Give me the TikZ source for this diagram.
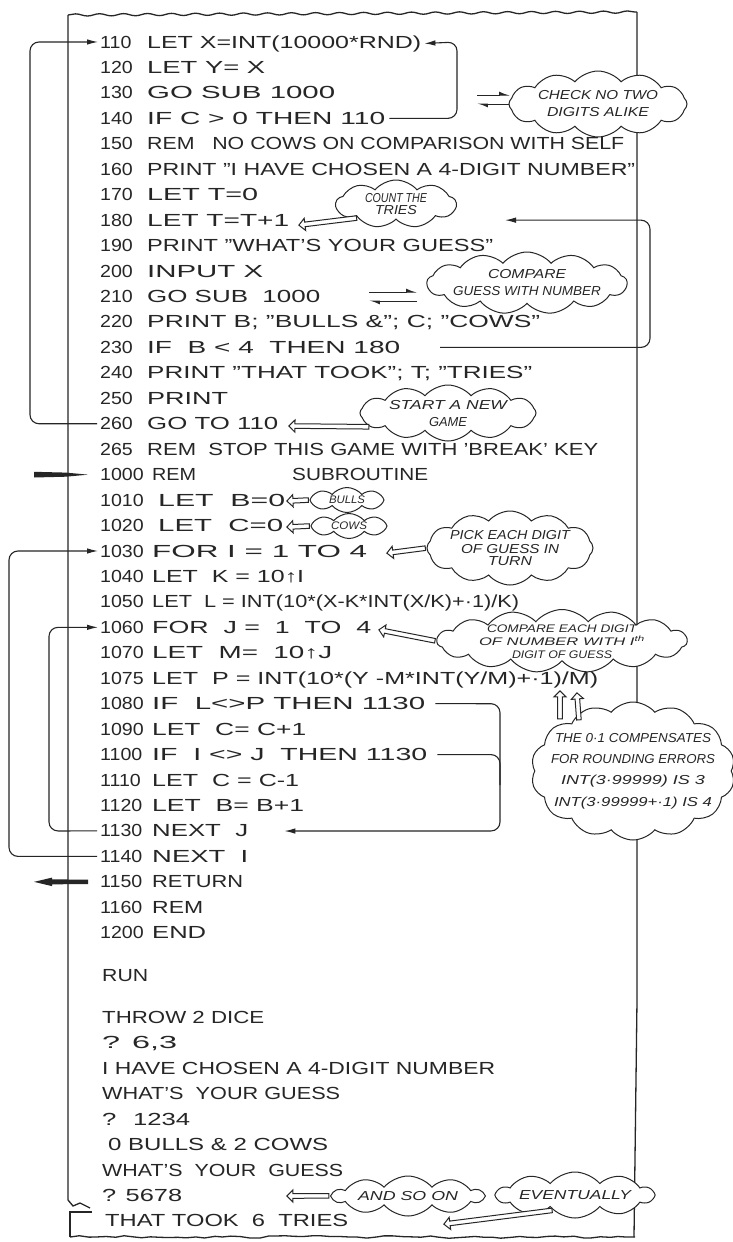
\documentclass[tikz,border=0pt]{standalone}
\usepackage{fontspec}
\usepackage{graphicx}
\setmainfont{Liberation Sans}
\usetikzlibrary{arrows.meta,shapes.symbols,shapes.arrows,decorations.pathmorphing,calc}
\definecolor{ink}{HTML}{262626}
\newsavebox\fitbox
\newcommand\fitw[2]{\sbox\fitbox{#2}\pgfmathsetmacro\fitsx{(#1)/\the\wd\fitbox}\scalebox{\fitsx}[1]{\usebox\fitbox}}
\newcommand\codefont{\fontsize{17.5}{18}\selectfont}
\newcommand\notefont{\itshape\fontsize{13}{13.5}\selectfont}
\newcommand\smallnote{\itshape\fontsize{11}{11}\selectfont}
% program line: k, number, x-start, x-end, text
\newcommand\pl[5]{%
  \node[code] (n#2) at (100,{42+25.45*#1+6}) {\scalebox{1.12}[1]{#2}};
  \node[code] (s#2) at (#3,{42+25.45*#1+6}) {\fitw{#4-#3}{#5}};}
% output line: name, y, x-start, x-end, text
\newcommand\ol[5]{%
  \node[code] (#1) at (#3,{#2+6}) {\fitw{#4-#3}{#5}};}
% hollow pointer from tail to tip
\newcommand\hollow[2]{%
  \path let \p1=($(#2)-(#1)$), \n1={veclen(\x1,\y1)} in
    (#1) -- (#2) node[midway, sloped, allow upside down, ptr, minimum height=\n1]{};}
\begin{document}
\begin{tikzpicture}[x=1pt,y=-1pt,
  code/.style={anchor=base west, inner sep=0pt, font=\codefont, text=ink},
  paper/.style={draw=ink, line width=1.3pt},
  loopline/.style={draw=ink, line width=1.1pt, rounded corners=9pt},
  tip/.style={-{Latex[length=11pt,width=5.5pt]}},
  harp/.style={draw=ink, line width=1pt, -{Latex[harpoon,length=9pt,width=7pt]}},
  bubble/.style={cloud, cloud puffs=12, cloud puff arc=100, cloud ignores aspect,
    draw=ink, fill=white, line width=1pt, inner sep=0pt},
  note/.style={inner sep=0pt, align=center, text=ink},
  ptr/.style={single arrow, draw=ink, fill=white, line width=1pt, inner sep=1.8pt,
    single arrow head extend=3.8pt, single arrow head indent=0pt}]
\useasboundingbox (0,0) rectangle (733,1242);
\fill[white] (0,0) rectangle (733,1242);

% ---------- paper ----------
\draw[paper, decorate, decoration={snake, amplitude=1.1pt, segment length=24pt}]
  (68,15) -- (637,12);
\draw[paper] (68,15) -- (68,1200) -- (73,1206) -- (80,1203) -- (90,1208);
\draw[paper] (92,1212) -- (70,1212) -- (70,1237);
\draw[paper, decorate, decoration={random steps, segment length=9pt, amplitude=1.3pt}]
  (70,1237) -- (635,1237);
\draw[paper] (637,12) -- (637,1000) -- (634,1237);

% ---------- program ----------
\pl{0}{110}{147}{421}{LET X=INT(10000*RND)}
\pl{1}{120}{147}{265}{LET Y= X}
\pl{2}{130}{147}{335}{GO SUB 1000}
\pl{3}{140}{147}{385}{IF C > 0 THEN 110}
\pl{4}{150}{147}{624}{REM \ \ NO COWS ON COMPARISON WITH SELF}
\pl{5}{160}{147}{635}{PRINT "I HAVE CHOSEN A 4-DIGIT NUMBER"}
\pl{6}{170}{147}{258}{LET T=0}
\pl{7}{180}{147}{289}{LET T=T+1}
\pl{8}{190}{147}{493}{PRINT "WHAT'S YOUR GUESS"}
\pl{9}{200}{147}{263}{INPUT X}
\pl{10}{210}{147}{320}{GO SUB \ 1000}
\pl{11}{220}{147}{540}{PRINT B; "BULLS \&"; C; "COWS"}
\pl{12}{230}{147}{400}{IF \ B < 4 \ THEN 180}
\pl{13}{240}{147}{532}{PRINT "THAT TOOK"; T; "TRIES"}
\pl{14}{250}{147}{228}{PRINT}
\pl{15}{260}{147}{278}{GO TO 110}
\pl{16}{265}{147}{598}{REM \ STOP THIS GAME WITH 'BREAK' KEY}
\pl{17}{1000}{152}{196}{REM}
\node[code] (sub1000) at (292,{42+25.45*17+6}) {\fitw{136}{SUBROUTINE}};
\pl{18}{1010}{158}{285}{LET \ B=0}
\pl{19}{1020}{158}{283}{LET \ C=0}
\pl{20}{1030}{152}{367}{FOR I = 1 TO 4}
\pl{21}{1040}{152}{304}{LET \ K = 10↑I}
\pl{22}{1050}{152}{519}{LET \ L = INT(10*(X-K*INT(X/K)+·1)/K)}
\pl{23}{1060}{152}{371}{FOR \ J = \ 1 \ TO \ 4}
\pl{24}{1070}{152}{332}{LET \ M= \ 10↑J}
\pl{25}{1075}{152}{598}{LET \ P = INT(10*(Y -M*INT(Y/M)+·1)/M)}
\pl{26}{1080}{152}{425}{IF \ L<>P THEN 1130}
\pl{27}{1090}{152}{306}{LET \ C= C+1}
\pl{28}{1100}{152}{427}{IF \ I <> J \ THEN 1130}
\pl{29}{1110}{152}{299}{LET \ C = C-1}
\pl{30}{1120}{152}{304}{LET \ B= B+1}
\pl{31}{1130}{152}{248}{NEXT \ J}
\pl{32}{1140}{152}{248}{NEXT \ I}
\pl{33}{1150}{152}{243}{RETURN}
\pl{34}{1160}{152}{203}{REM}
\pl{35}{1200}{152}{206}{END}

% ---------- run output ----------
\ol{run}{975}{102}{148}{RUN}
\ol{throw}{1017}{102}{264}{THROW 2 DICE}
\ol{q1}{1042.5}{102}{177}{? 6,3}
\ol{chosen}{1068}{102}{495}{I HAVE CHOSEN A 4-DIGIT NUMBER}
\ol{guess1}{1093.5}{102}{340}{WHAT'S \ YOUR GUESS}
\ol{q2}{1119}{102}{190}{? \ 1234}
\ol{bulls}{1144.5}{108}{328}{0 BULLS \& 2 COWS}
\ol{guess2}{1170}{102}{343}{WHAT'S \ YOUR \ GUESS}
\ol{q3}{1195}{102}{182}{? 5678}
\ol{took}{1220}{105}{348}{THAT TOOK \ 6 \ TRIES}

% ---------- loops ----------
\draw[loopline, tip] ([xshift=4pt]s140.east) -- (457,118.35) -- (457,42) -- ([xshift=3pt]s110.east);
\draw[loopline, tip] (440,347.4) -- (650,347.4) -- (650,220.15) -- (505,220.15);
\draw[loopline, tip] ([xshift=-3pt]n260.west) -- (30,423.75) -- (30,42) -- ([xshift=-2pt]n110.west);
\draw[loopline, tip] ([xshift=10pt]s1080.east) -- (500,703.7) -- (500,830.95) -- ([xshift=36pt]s1130.east);
\draw[loopline] ([xshift=10pt]s1100.east) -- (500,754.6) -- (500,785);
\draw[loopline, tip] ([xshift=-3pt]n1130.west) -- (49,830.95) -- (49,627.35) -- ([xshift=-2pt]n1060.west);
\draw[loopline, tip] ([xshift=-3pt]n1140.west) -- (9,856.4) -- (9,551) -- ([xshift=-2pt]n1030.west);

% subroutine entry / return marks
\fill[ink] (34,471.8) -- (66,472.6) -- (88,474.65) -- (66,476.7) -- (34,477.5) -- cycle;
\fill[ink] (34,881.85) -- (52,877.6) -- (52,879.4) -- (88,879.6) -- (88,884.1) -- (52,884.3) -- (52,886.1) -- cycle;

% harpoons (gosub / return)
\draw[harp] (477,95) -- (510,95);
\draw[harp] (510,104) -- (477,104);
\draw[harp] (369,292) -- (417,292);
\draw[harp] (417,301) -- (369,301);

% ---------- bubbles ----------
\node[bubble, minimum width=178, minimum height=66] (check) at (598,104) {};
\node[note] (tcheck) at (check.center)
  {\notefont\fitw{120}{CHECK NO TWO}\\[5pt]\notefont\fitw{102}{DIGITS ALIKE}};
\node[bubble, minimum width=120, minimum height=48, cloud puffs=9] (count) at (396,204) {};
\node[note] (tcount) at (count.center)
  {\notefont\fitw{62}{COUNT THE}\\[0pt]\notefont\fitw{42}{TRIES}};
\node[bubble, minimum width=200, minimum height=62, cloud puffs=13] (compare) at (527,283) {};
\node[note] (tcompare) at (compare.center)
  {\notefont\fitw{78}{COMPARE}\\[5pt]\notefont\fitw{148}{GUESS WITH NUMBER}};
\node[bubble, minimum width=176, minimum height=56] (start) at (448,413) {};
\node[note] (tstart) at ([yshift=-1pt]start.center)
  {\notefont\fitw{118}{START A NEW}\\[5pt]\notefont\fitw{38}{GAME}};
\node[bubble, minimum width=74, minimum height=25, cloud puffs=8] (bullsc) at (347,500) {};
\node[note] (tbulls) at (bullsc.center) {\smallnote\fitw{36}{BULLS}};
\node[bubble, minimum width=76, minimum height=25, cloud puffs=8] (cowsc) at (349,526) {};
\node[note] (tcows) at (cowsc.center) {\smallnote\fitw{36}{COWS}};
\node[bubble, minimum width=166, minimum height=74] (pick) at (510,548) {};
\node[note] (tpick) at (pick.center)
  {\notefont\fitw{120}{PICK EACH DIGIT}\\[2pt]\notefont\fitw{98}{OF GUESS IN}\\[0pt]\notefont\fitw{44}{TURN}};
\node[bubble, minimum width=250, minimum height=63, cloud puffs=15] (cmpeach) at (562,641) {};
\node[note] (tcmpeach) at ([yshift=-1pt]cmpeach.center)
  {\smallnote\fitw{150}{COMPARE EACH DIGIT}\\[1pt]\smallnote\fitw{166}{OF NUMBER WITH I\textsuperscript{th}}\\[1pt]\smallnote\fitw{100}{DIGIT OF GUESS}};
\node[bubble, minimum width=204, minimum height=138, cloud puffs=14] (the01) at (633,771) {};
\node[note] (tthe01) at (the01.center)
  {\notefont\fitw{156}{THE 0·1 COMPENSATES}\\[9pt]\notefont\fitw{164}{FOR ROUNDING ERRORS}\\[9pt]\notefont\fitw{144}{INT(3·99999) IS 3}\\[9pt]\notefont\fitw{158}{INT(3·99999+·1) IS 4}};
\node[bubble, minimum width=150, minimum height=40, cloud puffs=10] (andso) at (408,1196) {};
\node[note] (tandso) at (andso.center) {\notefont\fitw{100}{AND SO ON}};
\node[bubble, minimum width=156, minimum height=46, cloud puffs=10] (event) at (575,1195) {};
\node[note] (tevent) at (event.center) {\notefont\fitw{112}{EVENTUALLY}};

% ---------- pointers ----------
\coordinate (pc) at (300,225);   \hollow{count.200}{pc}
\coordinate (ps) at (290,426);   \hollow{start.190}{ps}
\coordinate (pb) at (288,501);   \hollow{bullsc.west}{pb}
\coordinate (pw) at (288,527);   \hollow{cowsc.west}{pw}
\coordinate (pp) at (388,553);   \hollow{pick.west}{pp}
\coordinate (pe) at (380,630);   \hollow{cmpeach.west}{pe}
\coordinate (pa) at (288,1196);  \hollow{andso.west}{pa}
\coordinate (pv) at (445,1224);  \hollow{event.215}{pv}
\coordinate (pu1) at (560,692);  \hollow{560,720}{pu1}
\coordinate (pu2) at (577,694);  \hollow{579,721}{pu2}
\end{tikzpicture}
\end{document}
